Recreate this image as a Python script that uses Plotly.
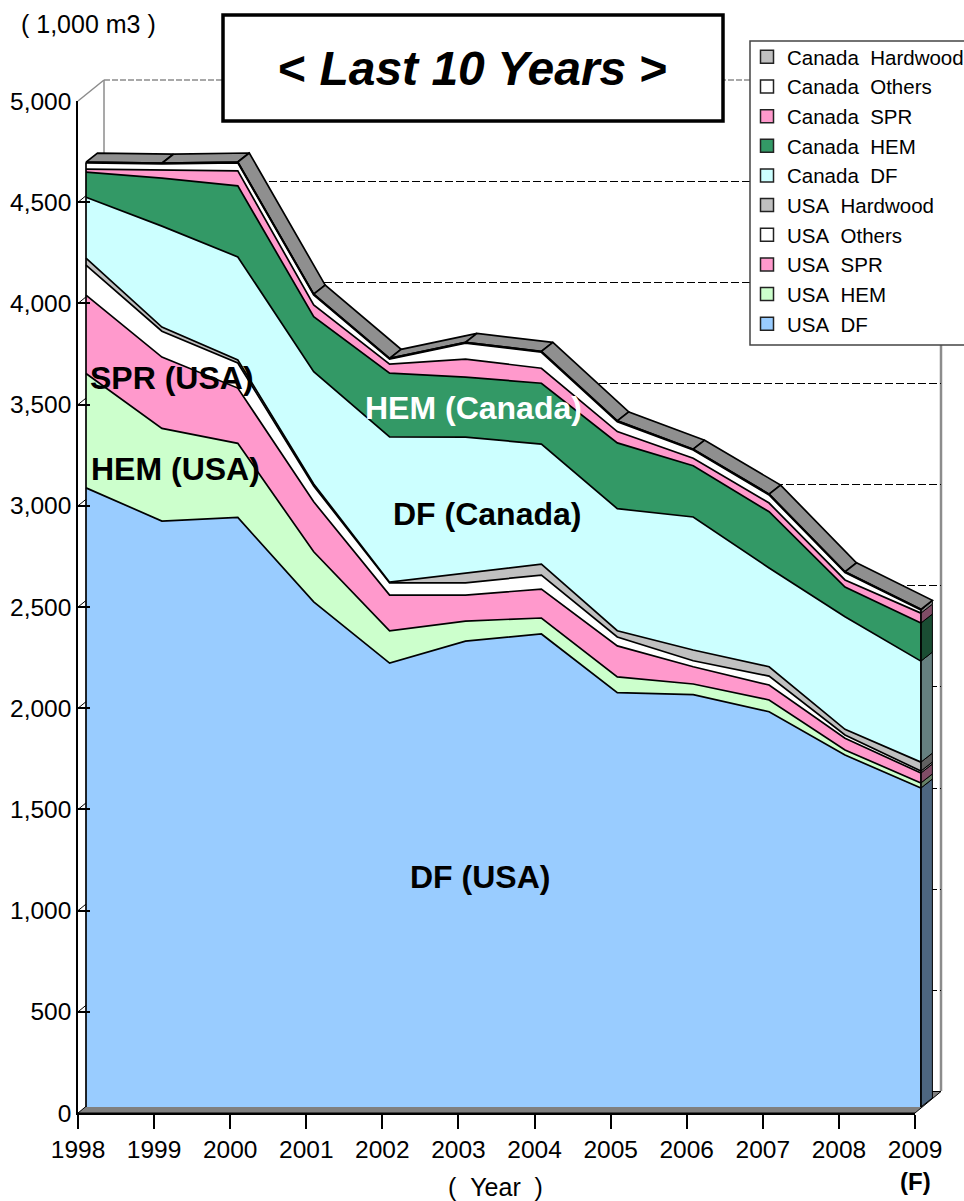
import numpy as np
import plotly.graph_objects as go

YEARS = list(range(1998, 2010))
YEAR_LABELS = [str(y) for y in YEARS]

USA_DF = [3059, 2895, 2913, 2496, 2193, 2302, 2337, 2047, 2037, 1953, 1739, 1576]
USA_HEM = [565, 458, 366, 247, 160, 99, 79, 78, 53, 58, 25, 25]
USA_SPR = [387, 352, 273, 247, 176, 128, 143, 153, 85, 74, 58, 49]
USA_OTHERS = [148, 128, 124, 78, 61, 61, 69, 44, 30, 44, 16, 10]
USA_HARDWOOD = [35, 20, 15, 10, 3, 48, 54, 31, 53, 46, 28, 44]
CAN_DF = [301, 499, 509, 555, 718, 672, 593, 603, 657, 488, 556, 499]
CAN_HEM = [124, 237, 351, 272, 315, 296, 301, 325, 253, 278, 147, 188]
CAN_SPR = [15, 40, 74, 58, 44, 89, 74, 56, 37, 43, 35, 49]
CAN_OTHERS = [30, 30, 40, 49, 25, 79, 79, 49, 41, 40, 36, 15]
CAN_HARDWOOD = [4, 4, 4, 4, 4, 4, 4, 4, 4, 4, 4, 4]

SERIES = [
    ("USA\u00a0\u00a0DF", USA_DF, "#99CCFF", "#4D6680"),
    ("USA\u00a0\u00a0HEM", USA_HEM, "#CCFFCC", "#668066"),
    ("USA\u00a0\u00a0SPR", USA_SPR, "#FF99CC", "#804D66"),
    ("USA\u00a0\u00a0Others", USA_OTHERS, "#FFFFFF", "#808080"),
    ("USA\u00a0\u00a0Hardwood", USA_HARDWOOD, "#C0C0C0", "#606060"),
    ("Canada\u00a0\u00a0DF", CAN_DF, "#CCFFFF", "#668080"),
    ("Canada\u00a0\u00a0HEM", CAN_HEM, "#339966", "#1A4D33"),
    ("Canada\u00a0\u00a0SPR", CAN_SPR, "#FF99CC", "#804D66"),
    ("Canada\u00a0\u00a0Others", CAN_OTHERS, "#FFFFFF", "#808080"),
    ("Canada\u00a0\u00a0Hardwood", CAN_HARDWOOD, "#C0C0C0", "#606060"),
]
Y_TICKS = list(range(0, 5001, 500))
Y_LABELS = [f"{v:,}" for v in Y_TICKS]

W, H = 964, 1201
FONT = "Liberation Sans, Arial, sans-serif"
PX_PER_YEAR = 75.9
PX_PER_UNIT = 0.2024
DEPTH_X = 11.5 / PX_PER_YEAR
DEPTH_Y = 9 / PX_PER_UNIT
TOP_COLOR = "#8F8F8F"
EDGE = 1.7


def px(x):
    return x / W


def py(y):
    return 1 - y / H


fig = go.Figure()

# back wall gridlines (first subplot, so everything else sits on top)
fig.add_trace(go.Scatter(x=[YEARS[0]], y=[0], mode="markers", marker=dict(opacity=0),
                         xaxis="x", yaxis="y", showlegend=False, hoverinfo="skip"))

# stacked totals used for the 3-D faces
layers = np.array([s[1] for s in SERIES], dtype=float)
cum = np.cumsum(layers, axis=0)
total = cum[-1]

# top surface of the solid
for i in range(len(YEARS) - 1):
    x0, x1 = YEARS[i], YEARS[i + 1]
    fig.add_trace(go.Scatter(
        x=[x0, x1, x1 + DEPTH_X, x0 + DEPTH_X, x0],
        y=[total[i], total[i + 1], total[i + 1] + DEPTH_Y, total[i] + DEPTH_Y, total[i]],
        mode="lines", fill="toself", fillcolor=TOP_COLOR, line=dict(color="#000", width=EDGE),
        xaxis="x2", yaxis="y2", showlegend=False, hoverinfo="skip"))

# right-hand face of the solid
last = YEARS[-1]
for k, (name, vals, col, dark) in enumerate(SERIES):
    lo = cum[k - 1][-1] if k else 0.0
    hi = cum[k][-1]
    fig.add_trace(go.Scatter(
        x=[last, last + DEPTH_X, last + DEPTH_X, last, last],
        y=[lo, lo + DEPTH_Y, hi + DEPTH_Y, hi, lo],
        mode="lines", fill="toself", fillcolor=dark, line=dict(color="#000", width=1),
        xaxis="x2", yaxis="y2", showlegend=False, hoverinfo="skip"))

# stacked areas
for name, vals, col, dark in SERIES:
    fig.add_trace(go.Scatter(
        x=YEARS, y=vals, mode="lines", stackgroup="one", fillcolor=col,
        line=dict(color="#000", width=EDGE), name=name,
        xaxis="x2", yaxis="y2", showlegend=False, hoverinfo="skip"))

# front vertical edges
for idx in (0, -1):
    fig.add_trace(go.Scatter(x=[YEARS[idx], YEARS[idx]], y=[0, total[idx]], mode="lines",
                             line=dict(color="#000", width=EDGE), xaxis="x2", yaxis="y2",
                             showlegend=False, hoverinfo="skip"))

# legend entries
for name, vals, col, dark in SERIES:
    fig.add_trace(go.Scatter(
        x=[None], y=[None], mode="markers", name=name, xaxis="x2", yaxis="y2",
        marker=dict(symbol="square", size=13, color=col, line=dict(color="#222", width=1.5))))

# labelled axes (drawn last, ticks sit over the data)
fig.add_trace(go.Scatter(x=[YEARS[0]], y=[0], mode="markers", marker=dict(opacity=0),
                         xaxis="x3", yaxis="y3", showlegend=False, hoverinfo="skip"))

shapes = []
GREY = "#8C8C8C"
# floor
shapes.append(dict(type="path", xref="paper", yref="paper", layer="below",
                   path=f"M {px(78)},{py(1113)} L {px(915)},{py(1113)} L {px(941)},{py(1091.5)} "
                        f"L {px(104)},{py(1091.5)} Z",
                   fillcolor="#808080", line=dict(color="#000", width=1)))


def seg(x0, y0, x1, y1, color=GREY, width=1.5, dash="solid", layer="below"):
    shapes.append(dict(type="line", xref="paper", yref="paper", layer=layer,
                       x0=px(x0), y0=py(y0), x1=px(x1), y1=py(y1),
                       line=dict(color=color, width=width, dash=dash)))


seg(78, 101, 104, 80)
seg(104, 80, 941, 80, dash="6px,2px")
seg(104, 80, 104, 1091)
seg(941, 80, 941, 1091, width=2.5)
# short side-wall gridline stubs between the axis and the front of the solid
for v in Y_TICKS[1:-1]:
    yy = 1113 - v * (1012 / 5000)
    seg(78, yy, 86, yy - 6.5, color="#000", width=1)
# title box and legend box, above the chart
shapes.append(dict(type="rect", xref="paper", yref="paper", layer="above",
                   x0=px(223), y0=py(15), x1=px(723), y1=py(121),
                   fillcolor="#FFFFFF", line=dict(color="#000", width=3.5)))
shapes.append(dict(type="rect", xref="paper", yref="paper", layer="above",
                   x0=px(750), y0=py(41), x1=px(972), y1=py(345),
                   fillcolor="#FFFFFF", line=dict(color="#444", width=1.5)))


def note(text, x, y, size, color="#000", bold=False):
    return dict(text=f"<b>{text}</b>" if bold else text, xref="paper", yref="paper",
                x=px(x), y=py(y), xanchor="center", yanchor="middle", showarrow=False,
                font=dict(family=FONT, size=size, color=color))


annotations = [
    note("&lt; <i>Last 10 Years</i> &gt;", 473, 68, 48, bold=True),
    note("( 1,000 m3 )", 88, 24, 25),
    note("(\u00a0\u00a0Year\u00a0\u00a0)", 496, 1187, 25),
    note("(F)", 915, 1181, 24, bold=True),
    note("SPR (USA)", 172, 378, 32, bold=True),
    note("HEM (USA)", 175, 469, 32, bold=True),
    note("HEM (Canada)", 473, 408, 32, color="#FFFFFF", bold=True),
    note("DF (Canada)", 487, 514, 32, bold=True),
    note("DF (USA)", 480, 877, 32, bold=True),
]

fig.update_layout(
    width=W, height=H, margin=dict(l=0, r=0, t=0, b=0, autoexpand=False),
    paper_bgcolor="#FFFFFF", plot_bgcolor="rgba(0,0,0,0)",
    font=dict(family=FONT, color="#000"),
    shapes=shapes, annotations=annotations, hovermode=False,
    legend=dict(x=px(747), y=py(37), xanchor="left", yanchor="top", traceorder="reversed",
                bgcolor="rgba(0,0,0,0)", borderwidth=0, font=dict(family=FONT, size=20.5),
                itemsizing="trace", tracegroupgap=0),
    # back wall
    xaxis=dict(domain=[px(104), px(941)], range=[1998, 2009], visible=False, fixedrange=True),
    yaxis=dict(domain=[py(1091.5), py(80)], range=[0, 5000], anchor="x", showline=False,
               zeroline=False, showticklabels=False, ticks="", showgrid=True, gridcolor="#000",
               gridwidth=1.2, griddash="8px,3px", tickmode="array", tickvals=Y_TICKS[1:-1],
               fixedrange=True),
    # data plane
    xaxis2=dict(domain=[0, 1], range=[1998 - 86 / PX_PER_YEAR, 1998 + (W - 86) / PX_PER_YEAR],
                visible=False, anchor="y2", fixedrange=True),
    yaxis2=dict(domain=[0, 1], range=[(1107 - H) / PX_PER_UNIT, 1107 / PX_PER_UNIT],
                visible=False, anchor="x2", fixedrange=True),
    # labelled axes
    xaxis3=dict(domain=[px(78), px(915)], range=[1998, 2009], anchor="y3", showgrid=False,
                zeroline=False, showline=True, linecolor="#000", linewidth=1.5, ticks="outside",
                ticklen=14, tickwidth=1.5, tickcolor="#000", tickmode="array", tickvals=YEARS,
                ticktext=YEAR_LABELS, tickangle=0, tickfont=dict(family=FONT, size=24.5),
                fixedrange=True),
    yaxis3=dict(domain=[py(1113), py(101)], range=[0, 5000], anchor="x3", showgrid=False,
                zeroline=False, showline=True, linecolor="#000", linewidth=1.5, ticks="inside",
                ticklen=12, tickwidth=1.5, tickcolor="#000", tickmode="array", tickvals=Y_TICKS,
                ticktext=Y_LABELS, tickfont=dict(family=FONT, size=24.5), fixedrange=True),
)

fig.write_html("out.html", config=dict(displayModeBar=False),
               post_script="document.body.style.margin='0';document.body.style.overflow='hidden';")
